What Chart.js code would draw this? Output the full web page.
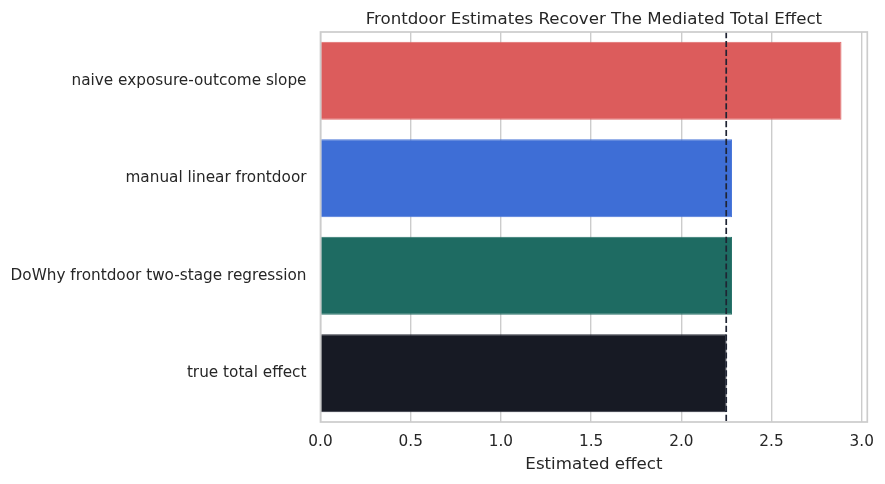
<!DOCTYPE html>
<html>
<head>
<meta charset="utf-8">
<script src="https://cdn.jsdelivr.net/npm/chart.js@4.4.1/dist/chart.umd.min.js"></script>
<style>
html,body{margin:0;padding:0;background:#fff;}
#wrap{width:885px;height:484px;position:relative;}
</style>
</head>
<body>
<div id="wrap"><canvas id="c" width="885" height="484"></canvas></div>
<script>
const categories = ["naive exposure-outcome slope", "manual linear frontdoor", "DoWhy frontdoor two-stage regression", "true total effect"];
const estimates = [2.888, 2.281, 2.281, 2.251];
const trueEffect = 2.249;
const xTicks = [0.0, 0.5, 1.0, 1.5, 2.0, 2.5, 3.0];
const xMax = 3.031;
const titleText = "Frontdoor Estimates Recover The Mediated Total Effect";
const barColors = ["#dc5c5c", "#3e6ed6", "#1e6b62", "#171a24"];
const barEdges = ["#e06a6a", "#4b78d9", "#2b746b", "#2a2d38"];

const FONT = "'DejaVu Sans', sans-serif";
const TEXT = "#262626";

const framePlugin = {
  id: 'frame',
  afterDatasetsDraw(chart) {
    const ctx = chart.ctx;
    const a = chart.chartArea;
    const x = chart.scales.x.getPixelForValue(trueEffect);
    ctx.save();
    ctx.strokeStyle = '#1f2433';
    ctx.lineWidth = 1.7;
    ctx.setLineDash([6.2, 2.7]);
    ctx.beginPath();
    ctx.moveTo(x, a.top);
    ctx.lineTo(x, a.bottom);
    ctx.stroke();
    ctx.setLineDash([]);
    ctx.strokeStyle = '#cccccc';
    ctx.lineWidth = 1.7;
    ctx.strokeRect(a.left, a.top, a.right - a.left, a.bottom - a.top);
    ctx.fillStyle = TEXT;
    ctx.font = "16.67px " + FONT;
    ctx.textAlign = 'center';
    ctx.textBaseline = 'alphabetic';
    ctx.fillText(titleText, (a.left + a.right) / 2, a.top - 8);
    ctx.restore();
  }
};

new Chart(document.getElementById('c'), {
  type: 'bar',
  data: {
    labels: categories,
    datasets: [{
      data: estimates,
      backgroundColor: barColors,
      borderColor: barEdges,
      borderWidth: 1,
      barPercentage: 1.0,
      categoryPercentage: 0.8
    }]
  },
  options: {
    indexAxis: 'y',
    responsive: false,
    animation: false,
    devicePixelRatio: 1,
    layout: { padding: { left: 0, right: 15, top: 32, bottom: 0 } },
    plugins: {
      legend: { display: false },
      tooltip: { enabled: false },
      title: { display: false }
    },
    scales: {
      x: {
        type: 'linear',
        min: 0,
        max: xMax,
        afterBuildTicks(scale) { scale.ticks = xTicks.map(v => ({ value: v })); },
        afterFit(scale) { scale.height = 62; },
        grid: { color: '#cccccc', lineWidth: 1.4, drawTicks: false },
        border: { display: false },
        ticks: {
          color: TEXT,
          padding: 11,
          font: { family: FONT, size: 15.28 },
          callback: v => Number(v).toFixed(1),
          maxRotation: 0
        },
        title: {
          display: true,
          text: 'Estimated effect',
          color: TEXT,
          font: { family: FONT, size: 16.67, lineHeight: 1.2 },
          padding: { top: 0, bottom: 9 }
        }
      },
      y: {
        afterFit(scale) { scale.width = 320.5; },
        grid: { display: false, drawTicks: false },
        border: { display: false },
        ticks: {
          color: TEXT,
          padding: 14,
          font: { family: FONT, size: 15.28 }
        }
      }
    }
  },
  plugins: [framePlugin]
});
</script>
</body>
</html>
